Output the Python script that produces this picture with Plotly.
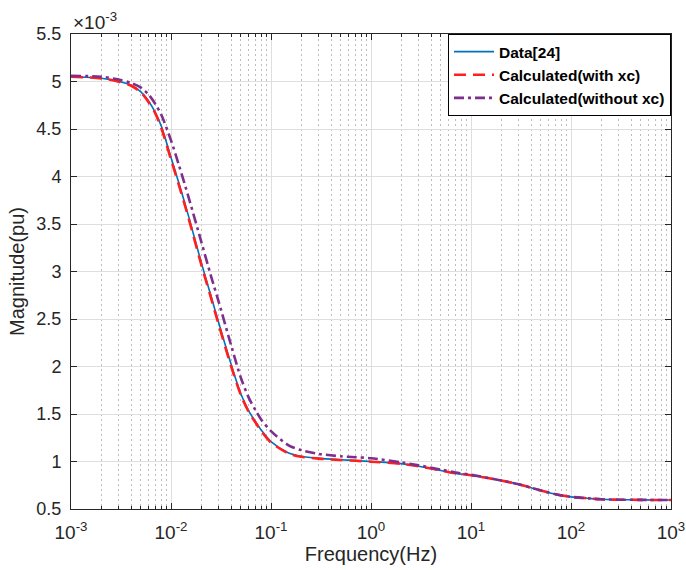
import plotly.graph_objects as go

# Frequency points (Hz)
freq_hz = [0.001, 0.002, 0.003, 0.004, 0.005, 0.006, 0.007, 0.008, 0.01, 0.012,
           0.015, 0.02, 0.025, 0.03, 0.04, 0.05, 0.06, 0.07, 0.08, 0.1,
           0.15, 0.2, 0.3, 0.5, 0.7, 1, 2, 3, 5, 7,
           10, 20, 30, 50, 70, 100, 150, 200, 300, 500, 1000]

# Magnitude in units of 1e-3 pu
mag_data = [5.05, 5.035, 5.0, 4.96, 4.89, 4.79, 4.67, 4.53, 4.2, 3.93,
            3.58, 3.1, 2.75, 2.46, 2.02, 1.71, 1.53, 1.42, 1.33, 1.21,
            1.09, 1.055, 1.033, 1.018, 1.01, 1.0, 0.978, 0.95, 0.905, 0.875,
            0.855, 0.80, 0.76, 0.695, 0.655, 0.628, 0.612, 0.602, 0.598, 0.596, 0.594]

mag_with_xc = [5.05, 5.033, 4.998, 4.955, 4.885, 4.78, 4.66, 4.51, 4.18, 3.91,
               3.56, 3.08, 2.73, 2.44, 2.0, 1.70, 1.52, 1.41, 1.32, 1.2,
               1.085, 1.05, 1.03, 1.016, 1.008, 0.998, 0.976, 0.95, 0.905, 0.875,
               0.855, 0.80, 0.76, 0.695, 0.655, 0.628, 0.612, 0.602, 0.598, 0.596, 0.594]

mag_without_xc = [5.06, 5.05, 5.02, 4.985, 4.935, 4.86, 4.76, 4.65, 4.38, 4.12,
                  3.78, 3.32, 2.96, 2.68, 2.22, 1.88, 1.67, 1.54, 1.44, 1.32,
                  1.17, 1.12, 1.08, 1.055, 1.045, 1.035, 0.99, 0.96, 0.915, 0.885,
                  0.86, 0.80, 0.76, 0.695, 0.655, 0.628, 0.612, 0.602, 0.598, 0.596, 0.594]

series_names = ["Data[24]", "Calculated(with xc)", "Calculated(without xc)"]

x_tick_vals = [1e-3, 1e-2, 1e-1, 1, 10, 100, 1000]
x_tick_text = ["10<sup>-3</sup>", "10<sup>-2</sup>", "10<sup>-1</sup>", "10<sup>0</sup>",
               "10<sup>1</sup>", "10<sup>2</sup>", "10<sup>3</sup>"]
y_tick_vals = [0.5, 1, 1.5, 2, 2.5, 3, 3.5, 4, 4.5, 5, 5.5]
y_tick_text = ["0.5", "1", "1.5", "2", "2.5", "3", "3.5", "4", "4.5", "5", "5.5"]

# minor ticks at 2..9 of every decade
minor_vals = [m * d for d in x_tick_vals[:-1] for m in range(2, 10)]

AX = "#262626"
FONT = "Liberation Sans, Arial, sans-serif"

fig = go.Figure()
fig.add_trace(go.Scatter(x=freq_hz, y=mag_data, name=series_names[0], mode="lines",
                         line=dict(color="#0072BD", width=1.6, shape="spline", smoothing=0.8)))
fig.add_trace(go.Scatter(x=freq_hz, y=mag_with_xc, name=series_names[1], mode="lines",
                         line=dict(color="#FF1F1F", width=2.6, dash="12px,7px",
                                   shape="spline", smoothing=0.8)))
fig.add_trace(go.Scatter(x=freq_hz, y=mag_without_xc, name=series_names[2], mode="lines",
                         line=dict(color="#7E2F8E", width=2.6, dash="10px,4px,3px,4px",
                                   shape="spline", smoothing=0.8)))

fig.update_xaxes(
    type="log", range=[-3, 3], tickmode="array", tickvals=x_tick_vals, ticktext=x_tick_text,
    automargin=False,
    showline=True, linecolor=AX, linewidth=1, mirror="allticks",
    ticks="inside", ticklen=6, tickcolor=AX, ticklabelstandoff=6,
    showgrid=True, gridcolor="#dedede", gridwidth=1,
    minor=dict(tickmode="array", tickvals=minor_vals, ticks="inside", ticklen=3,
               tickcolor=AX, showgrid=True, gridcolor="#bdbdbd", griddash="2px,3px",
               gridwidth=1),
    tickfont=dict(family=FONT, size=19, color=AX),
    title=dict(text="Frequency(Hz)", font=dict(family=FONT, size=20, color=AX), standoff=4),
    zeroline=False,
)
fig.update_yaxes(
    range=[0.5, 5.5], tickmode="array", tickvals=y_tick_vals, ticktext=y_tick_text,
    automargin=False,
    showline=True, linecolor=AX, linewidth=1, mirror="allticks",
    ticks="inside", ticklen=6, tickcolor=AX, ticklabelstandoff=5,
    showgrid=True, gridcolor="#dedede", gridwidth=1,
    tickfont=dict(family=FONT, size=18, color=AX),
    title=dict(text="Magnitude(pu)", font=dict(family=FONT, size=20, color=AX), standoff=6),
    zeroline=False,
)

fig.add_annotation(text="×10<sup>-3</sup>", xref="paper", yref="paper", x=0, y=1,
                   xanchor="left", yanchor="bottom", yshift=-1, showarrow=False,
                   font=dict(family=FONT, size=19, color=AX))

fig.update_layout(
    width=686, height=570,
    margin=dict(l=71, r=15, t=34, b=61),
    paper_bgcolor="white", plot_bgcolor="white",
    showlegend=True,
    legend=dict(x=1, y=1, xanchor="right", yanchor="top",
                bgcolor="white", bordercolor="#000000", borderwidth=1,
                font=dict(family=FONT, size=15.5, color="#000000", weight="bold"),
                itemwidth=40, tracegroupgap=0),
)

fig.write_html("out.html")
